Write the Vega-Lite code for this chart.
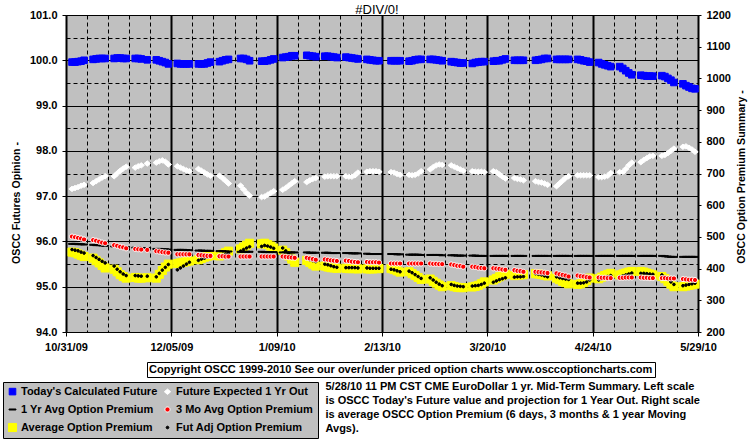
{
 "$schema": "https://vega.github.io/schema/vega-lite/v6.json",
 "width": 632, "height": 317,
 "autosize": {"type": "none"},
 "padding": {"left": 66, "top": 15, "right": 57, "bottom": 114},
 "background": "#FFFFFF",
 "title": {"text": "#DIV/0!", "frame": "group", "anchor": "middle", "dx": -5, "dy": 9, "offset": 1, "fontSize": 13, "fontWeight": "normal", "font": "Liberation Sans", "color": "#000000"},
 "data": {"values": [
{"d":"2009-11-02","tf":99.96,"fe":97.16,"y1":478,"m3":501,"avg":452,"adj":460},
{"d":"2009-11-03","tf":99.96,"fe":97.18,"y1":478,"m3":499,"avg":450,"adj":458},
{"d":"2009-11-04","tf":99.97,"fe":97.20,"y1":477,"m3":497,"avg":446,"adj":456},
{"d":"2009-11-05","tf":99.98,"fe":97.23,"y1":477,"m3":495,"avg":442,"adj":452},
{"d":"2009-11-06","tf":100.00,"fe":97.25,"y1":476,"m3":492,"avg":438,"adj":449},
{"d":"2009-11-09","tf":100.02,"fe":97.29,"y1":475,"m3":490,"avg":433,"adj":441},
{"d":"2009-11-10","tf":100.03,"fe":97.33,"y1":474,"m3":488,"avg":425,"adj":435},
{"d":"2009-11-11","tf":100.04,"fe":97.37,"y1":474,"m3":485,"avg":418,"adj":429},
{"d":"2009-11-12","tf":100.04,"fe":97.41,"y1":473,"m3":482,"avg":410,"adj":423},
{"d":"2009-11-13","tf":100.04,"fe":97.44,"y1":472,"m3":480,"avg":402,"adj":418},
{"d":"2009-11-16","tf":100.04,"fe":97.44,"y1":470,"m3":474,"avg":398,"adj":408},
{"d":"2009-11-17","tf":100.05,"fe":97.50,"y1":470,"m3":472,"avg":390,"adj":398},
{"d":"2009-11-18","tf":100.05,"fe":97.56,"y1":469,"m3":469,"avg":381,"adj":390},
{"d":"2009-11-19","tf":100.04,"fe":97.61,"y1":469,"m3":467,"avg":375,"adj":383},
{"d":"2009-11-20","tf":100.04,"fe":97.65,"y1":468,"m3":464,"avg":370,"adj":378},
{"d":"2009-11-23","tf":100.04,"fe":97.63,"y1":466,"m3":462,"avg":372,"adj":378},
{"d":"2009-11-24","tf":100.04,"fe":97.66,"y1":466,"m3":461,"avg":370,"adj":377},
{"d":"2009-11-25","tf":100.03,"fe":97.68,"y1":465,"m3":460,"avg":370,"adj":376},
{"d":"2009-11-27","tf":100.01,"fe":97.72,"y1":465,"m3":459,"avg":371,"adj":376},
{"d":"2009-11-30","tf":100.01,"fe":97.74,"y1":462,"m3":455,"avg":370,"adj":374},
{"d":"2009-12-01","tf":99.99,"fe":97.77,"y1":462,"m3":454,"avg":382,"adj":385},
{"d":"2009-12-02","tf":99.97,"fe":97.79,"y1":461,"m3":452,"avg":394,"adj":395},
{"d":"2009-12-03","tf":99.95,"fe":97.76,"y1":461,"m3":451,"avg":405,"adj":404},
{"d":"2009-12-04","tf":99.92,"fe":97.70,"y1":460,"m3":450,"avg":414,"adj":413},
{"d":"2009-12-07","tf":99.93,"fe":97.66,"y1":459,"m3":445,"avg":416,"adj":396},
{"d":"2009-12-08","tf":99.92,"fe":97.63,"y1":459,"m3":445,"avg":418,"adj":402},
{"d":"2009-12-09","tf":99.92,"fe":97.60,"y1":459,"m3":445,"avg":420,"adj":408},
{"d":"2009-12-10","tf":99.92,"fe":97.57,"y1":458,"m3":445,"avg":422,"adj":414},
{"d":"2009-12-11","tf":99.92,"fe":97.55,"y1":458,"m3":445,"avg":424,"adj":420},
{"d":"2009-12-14","tf":99.92,"fe":97.60,"y1":457,"m3":443,"avg":428,"adj":426},
{"d":"2009-12-15","tf":99.92,"fe":97.56,"y1":457,"m3":442,"avg":432,"adj":430},
{"d":"2009-12-16","tf":99.92,"fe":97.52,"y1":456,"m3":441,"avg":436,"adj":433},
{"d":"2009-12-17","tf":99.94,"fe":97.48,"y1":456,"m3":440,"avg":439,"adj":436},
{"d":"2009-12-18","tf":99.96,"fe":97.45,"y1":456,"m3":440,"avg":441,"adj":438},
{"d":"2009-12-21","tf":99.97,"fe":97.45,"y1":455,"m3":439,"avg":440,"adj":437},
{"d":"2009-12-22","tf":99.99,"fe":97.40,"y1":455,"m3":439,"avg":445,"adj":441},
{"d":"2009-12-23","tf":100.01,"fe":97.34,"y1":454,"m3":438,"avg":450,"adj":445},
{"d":"2009-12-24","tf":100.02,"fe":97.28,"y1":454,"m3":438,"avg":455,"adj":449},
{"d":"2009-12-28","tf":100.04,"fe":97.23,"y1":453,"m3":438,"avg":462,"adj":455},
{"d":"2009-12-29","tf":100.04,"fe":97.15,"y1":453,"m3":438,"avg":468,"adj":460},
{"d":"2009-12-30","tf":100.02,"fe":97.07,"y1":453,"m3":438,"avg":474,"adj":465},
{"d":"2009-12-31","tf":99.99,"fe":97.01,"y1":453,"m3":438,"avg":480,"adj":469},
{"d":"2010-01-04","tf":99.98,"fe":96.98,"y1":453,"m3":438,"avg":478,"adj":470},
{"d":"2010-01-05","tf":99.98,"fe":96.99,"y1":452,"m3":438,"avg":480,"adj":473},
{"d":"2010-01-06","tf":99.99,"fe":97.03,"y1":452,"m3":438,"avg":476,"adj":471},
{"d":"2010-01-07","tf":100.01,"fe":97.07,"y1":452,"m3":438,"avg":471,"adj":468},
{"d":"2010-01-08","tf":100.03,"fe":97.11,"y1":452,"m3":438,"avg":465,"adj":464},
{"d":"2010-01-11","tf":100.06,"fe":97.14,"y1":451,"m3":438,"avg":458,"adj":465},
{"d":"2010-01-12","tf":100.07,"fe":97.18,"y1":451,"m3":437,"avg":450,"adj":456},
{"d":"2010-01-13","tf":100.08,"fe":97.23,"y1":451,"m3":436,"avg":440,"adj":448},
{"d":"2010-01-14","tf":100.10,"fe":97.28,"y1":451,"m3":435,"avg":430,"adj":440},
{"d":"2010-01-15","tf":100.10,"fe":97.33,"y1":451,"m3":434,"avg":420,"adj":432},
{"d":"2010-01-19","tf":100.11,"fe":97.31,"y1":451,"m3":434,"avg":426,"adj":432},
{"d":"2010-01-20","tf":100.10,"fe":97.35,"y1":450,"m3":432,"avg":420,"adj":428},
{"d":"2010-01-21","tf":100.09,"fe":97.38,"y1":450,"m3":430,"avg":414,"adj":425},
{"d":"2010-01-22","tf":100.08,"fe":97.40,"y1":450,"m3":428,"avg":408,"adj":422},
{"d":"2010-01-25","tf":100.09,"fe":97.43,"y1":450,"m3":429,"avg":408,"adj":414},
{"d":"2010-01-26","tf":100.09,"fe":97.44,"y1":450,"m3":428,"avg":405,"adj":412},
{"d":"2010-01-27","tf":100.08,"fe":97.44,"y1":449,"m3":426,"avg":403,"adj":409},
{"d":"2010-01-28","tf":100.07,"fe":97.44,"y1":449,"m3":425,"avg":402,"adj":406},
{"d":"2010-01-29","tf":100.06,"fe":97.44,"y1":449,"m3":424,"avg":401,"adj":404},
{"d":"2010-02-01","tf":100.07,"fe":97.44,"y1":449,"m3":425,"avg":401,"adj":403},
{"d":"2010-02-02","tf":100.06,"fe":97.43,"y1":449,"m3":424,"avg":400,"adj":403},
{"d":"2010-02-03","tf":100.05,"fe":97.43,"y1":448,"m3":422,"avg":400,"adj":403},
{"d":"2010-02-04","tf":100.04,"fe":97.46,"y1":448,"m3":421,"avg":400,"adj":403},
{"d":"2010-02-05","tf":100.03,"fe":97.52,"y1":448,"m3":420,"avg":399,"adj":402},
{"d":"2010-02-08","tf":100.02,"fe":97.54,"y1":447,"m3":421,"avg":399,"adj":402},
{"d":"2010-02-09","tf":100.01,"fe":97.55,"y1":446,"m3":420,"avg":399,"adj":401},
{"d":"2010-02-10","tf":100.00,"fe":97.55,"y1":446,"m3":420,"avg":399,"adj":401},
{"d":"2010-02-11","tf":99.99,"fe":97.55,"y1":446,"m3":420,"avg":400,"adj":401},
{"d":"2010-02-12","tf":99.99,"fe":97.54,"y1":446,"m3":419,"avg":400,"adj":401},
{"d":"2010-02-16","tf":99.99,"fe":97.53,"y1":446,"m3":416,"avg":400,"adj":398},
{"d":"2010-02-17","tf":99.99,"fe":97.52,"y1":446,"m3":416,"avg":397,"adj":396},
{"d":"2010-02-18","tf":99.99,"fe":97.49,"y1":445,"m3":416,"avg":393,"adj":393},
{"d":"2010-02-19","tf":99.99,"fe":97.47,"y1":445,"m3":416,"avg":389,"adj":390},
{"d":"2010-02-22","tf":99.98,"fe":97.47,"y1":444,"m3":416,"avg":390,"adj":392},
{"d":"2010-02-23","tf":99.99,"fe":97.46,"y1":444,"m3":416,"avg":384,"adj":387},
{"d":"2010-02-24","tf":100.01,"fe":97.47,"y1":444,"m3":416,"avg":378,"adj":381},
{"d":"2010-02-25","tf":100.02,"fe":97.50,"y1":444,"m3":416,"avg":372,"adj":375},
{"d":"2010-02-26","tf":100.02,"fe":97.55,"y1":443,"m3":416,"avg":366,"adj":369},
{"d":"2010-03-01","tf":100.02,"fe":97.59,"y1":443,"m3":416,"avg":367,"adj":371},
{"d":"2010-03-02","tf":100.02,"fe":97.64,"y1":443,"m3":415,"avg":360,"adj":364},
{"d":"2010-03-03","tf":100.01,"fe":97.68,"y1":443,"m3":415,"avg":354,"adj":357},
{"d":"2010-03-04","tf":100.00,"fe":97.70,"y1":443,"m3":414,"avg":348,"adj":351},
{"d":"2010-03-05","tf":99.99,"fe":97.69,"y1":442,"m3":414,"avg":343,"adj":346},
{"d":"2010-03-08","tf":99.97,"fe":97.68,"y1":442,"m3":413,"avg":346,"adj":350},
{"d":"2010-03-09","tf":99.96,"fe":97.65,"y1":442,"m3":411,"avg":343,"adj":347},
{"d":"2010-03-10","tf":99.95,"fe":97.62,"y1":441,"m3":409,"avg":341,"adj":345},
{"d":"2010-03-11","tf":99.94,"fe":97.59,"y1":441,"m3":408,"avg":340,"adj":344},
{"d":"2010-03-12","tf":99.94,"fe":97.56,"y1":441,"m3":406,"avg":340,"adj":343},
{"d":"2010-03-15","tf":99.93,"fe":97.55,"y1":441,"m3":406,"avg":342,"adj":345},
{"d":"2010-03-16","tf":99.95,"fe":97.54,"y1":441,"m3":405,"avg":344,"adj":346},
{"d":"2010-03-17","tf":99.96,"fe":97.54,"y1":440,"m3":403,"avg":347,"adj":347},
{"d":"2010-03-18","tf":99.97,"fe":97.54,"y1":440,"m3":402,"avg":352,"adj":350},
{"d":"2010-03-19","tf":99.97,"fe":97.53,"y1":440,"m3":401,"avg":358,"adj":354},
{"d":"2010-03-22","tf":99.98,"fe":97.55,"y1":440,"m3":401,"avg":364,"adj":357},
{"d":"2010-03-23","tf":99.99,"fe":97.53,"y1":440,"m3":400,"avg":369,"adj":361},
{"d":"2010-03-24","tf":99.99,"fe":97.48,"y1":440,"m3":399,"avg":374,"adj":365},
{"d":"2010-03-25","tf":100.01,"fe":97.43,"y1":440,"m3":397,"avg":378,"adj":368},
{"d":"2010-03-26","tf":100.03,"fe":97.39,"y1":440,"m3":396,"avg":382,"adj":371},
{"d":"2010-03-29","tf":100.00,"fe":97.40,"y1":440,"m3":395,"avg":378,"adj":373},
{"d":"2010-03-30","tf":100.00,"fe":97.38,"y1":440,"m3":393,"avg":379,"adj":374},
{"d":"2010-03-31","tf":100.00,"fe":97.37,"y1":440,"m3":392,"avg":380,"adj":374},
{"d":"2010-04-01","tf":100.00,"fe":97.35,"y1":440,"m3":390,"avg":381,"adj":375},
{"d":"2010-04-05","tf":100.00,"fe":97.33,"y1":440,"m3":390,"avg":384,"adj":384},
{"d":"2010-04-06","tf":100.01,"fe":97.31,"y1":440,"m3":389,"avg":383,"adj":382},
{"d":"2010-04-07","tf":100.02,"fe":97.30,"y1":440,"m3":388,"avg":381,"adj":380},
{"d":"2010-04-08","tf":100.04,"fe":97.28,"y1":440,"m3":387,"avg":379,"adj":377},
{"d":"2010-04-09","tf":100.04,"fe":97.25,"y1":440,"m3":386,"avg":377,"adj":374},
{"d":"2010-04-12","tf":100.02,"fe":97.22,"y1":440,"m3":385,"avg":370,"adj":374},
{"d":"2010-04-13","tf":100.02,"fe":97.28,"y1":440,"m3":382,"avg":365,"adj":371},
{"d":"2010-04-14","tf":100.02,"fe":97.34,"y1":440,"m3":380,"avg":360,"adj":369},
{"d":"2010-04-15","tf":100.02,"fe":97.40,"y1":440,"m3":378,"avg":356,"adj":367},
{"d":"2010-04-16","tf":100.02,"fe":97.44,"y1":440,"m3":375,"avg":352,"adj":366},
{"d":"2010-04-19","tf":100.02,"fe":97.46,"y1":440,"m3":378,"avg":350,"adj":354},
{"d":"2010-04-20","tf":100.01,"fe":97.46,"y1":440,"m3":376,"avg":352,"adj":354},
{"d":"2010-04-21","tf":99.99,"fe":97.46,"y1":440,"m3":375,"avg":356,"adj":355},
{"d":"2010-04-22","tf":99.98,"fe":97.46,"y1":440,"m3":373,"avg":362,"adj":358},
{"d":"2010-04-23","tf":99.96,"fe":97.46,"y1":440,"m3":372,"avg":370,"adj":364},
{"d":"2010-04-26","tf":99.95,"fe":97.42,"y1":440,"m3":372,"avg":368,"adj":364},
{"d":"2010-04-27","tf":99.92,"fe":97.42,"y1":440,"m3":371,"avg":373,"adj":368},
{"d":"2010-04-28","tf":99.90,"fe":97.43,"y1":440,"m3":371,"avg":378,"adj":372},
{"d":"2010-04-29","tf":99.88,"fe":97.45,"y1":440,"m3":370,"avg":382,"adj":375},
{"d":"2010-04-30","tf":99.86,"fe":97.51,"y1":440,"m3":370,"avg":385,"adj":378},
{"d":"2010-05-03","tf":99.86,"fe":97.53,"y1":440,"m3":371,"avg":380,"adj":374},
{"d":"2010-05-04","tf":99.82,"fe":97.53,"y1":440,"m3":371,"avg":383,"adj":377},
{"d":"2010-05-05","tf":99.77,"fe":97.60,"y1":440,"m3":372,"avg":386,"adj":380},
{"d":"2010-05-06","tf":99.72,"fe":97.68,"y1":440,"m3":372,"avg":389,"adj":383},
{"d":"2010-05-07","tf":99.68,"fe":97.74,"y1":440,"m3":372,"avg":391,"adj":386},
{"d":"2010-05-10","tf":99.67,"fe":97.75,"y1":440,"m3":372,"avg":391,"adj":385},
{"d":"2010-05-11","tf":99.66,"fe":97.80,"y1":440,"m3":371,"avg":389,"adj":385},
{"d":"2010-05-12","tf":99.65,"fe":97.84,"y1":440,"m3":371,"avg":386,"adj":384},
{"d":"2010-05-13","tf":99.65,"fe":97.88,"y1":440,"m3":370,"avg":383,"adj":383},
{"d":"2010-05-14","tf":99.65,"fe":97.89,"y1":440,"m3":370,"avg":380,"adj":382},
{"d":"2010-05-17","tf":99.66,"fe":97.89,"y1":440,"m3":370,"avg":375,"adj":380},
{"d":"2010-05-18","tf":99.64,"fe":97.91,"y1":439,"m3":370,"avg":368,"adj":374},
{"d":"2010-05-19","tf":99.60,"fe":97.95,"y1":438,"m3":369,"avg":360,"adj":366},
{"d":"2010-05-20","tf":99.56,"fe":98.00,"y1":437,"m3":369,"avg":351,"adj":358},
{"d":"2010-05-21","tf":99.51,"fe":98.05,"y1":437,"m3":369,"avg":343,"adj":350},
{"d":"2010-05-24","tf":99.48,"fe":98.09,"y1":437,"m3":367,"avg":343,"adj":346},
{"d":"2010-05-25","tf":99.44,"fe":98.10,"y1":437,"m3":366,"avg":345,"adj":348},
{"d":"2010-05-26","tf":99.41,"fe":98.07,"y1":437,"m3":365,"avg":347,"adj":350},
{"d":"2010-05-27","tf":99.38,"fe":98.03,"y1":437,"m3":365,"avg":349,"adj":352},
{"d":"2010-05-28","tf":99.37,"fe":97.98,"y1":437,"m3":364,"avg":351,"adj":354}
 ]},
 "encoding": {
  "fill": {"field": "key", "type": "nominal",
   "scale": {"domain": ["tf","y1","avg","fe","m3","adj"], "range": ["#0000FF","#000000","#FFFF00","#FFFFFF","#FF0000","#000000"]},
   "legend": {"title": null, "columns": 2, "legendX": -63, "legendY": 367, "fillColor": "#C0C0C0", "strokeColor": "#000000", "padding": 4, "rowPadding": 6, "columnPadding": 4, "labelOffset": 3, "labelLimit": 400,
    "labelExpr": "datum.label == 'tf' ? \"Today's Calculated Future\" : datum.label == 'fe' ? 'Future Expected 1 Yr Out' : datum.label == 'y1' ? '1 Yr Avg Option Premium' : datum.label == 'm3' ? '3 Mo Avg Option Premium' : datum.label == 'avg' ? 'Average Option Premium' : 'Fut Adj Option Premium'"}},
  "shape": {"field": "key", "type": "nominal",
   "scale": {"domain": ["tf","y1","avg","fe","m3","adj"], "range": [
     "M-1.1,-1.1H1.1V1.1H-1.1Z",
     "M-1.15,-0.17H1.15V0.17H-1.15Z",
     "M-1.35,-1.35H1.35V1.35H-1.35Z",
     "M0,-0.9L1.05,0L0,0.9L-1.05,0Z",
     "M-0.85,0A0.85,0.85,0,1,1,0.85,0A0.85,0.85,0,1,1,-0.85,0Z",
     "M-0.45,0A0.45,0.45,0,1,1,0.45,0A0.45,0.45,0,1,1,-0.45,0Z"]},
   "legend": {"title": null, "columns": 2, "legendX": -63, "legendY": 367, "fillColor": "#C0C0C0", "strokeColor": "#000000", "padding": 4, "rowPadding": 6, "columnPadding": 4, "labelOffset": 3, "labelLimit": 400,
    "labelExpr": "datum.label == 'tf' ? \"Today's Calculated Future\" : datum.label == 'fe' ? 'Future Expected 1 Yr Out' : datum.label == 'y1' ? '1 Yr Avg Option Premium' : datum.label == 'm3' ? '3 Mo Avg Option Premium' : datum.label == 'avg' ? 'Average Option Premium' : 'Fut Adj Option Premium'"}},
  "stroke": {"field": "key", "type": "nominal",
   "scale": {"domain": ["tf","y1","avg","fe","m3","adj"], "range": ["#0000FF","#000000","#FFFF00","#FFFFFF","#FFFFFF","#000000"]},
   "legend": {"title": null, "columns": 2, "legendX": -63, "legendY": 367, "fillColor": "#C0C0C0", "strokeColor": "#000000", "padding": 4, "rowPadding": 6, "columnPadding": 4, "labelOffset": 3, "labelLimit": 400,
    "labelExpr": "datum.label == 'tf' ? \"Today's Calculated Future\" : datum.label == 'fe' ? 'Future Expected 1 Yr Out' : datum.label == 'y1' ? '1 Yr Avg Option Premium' : datum.label == 'm3' ? '3 Mo Avg Option Premium' : datum.label == 'avg' ? 'Average Option Premium' : 'Fut Adj Option Premium'"}}
 },
 "layer": [
  {
   "encoding": {
    "x": {"field": "d", "type": "temporal",
     "scale": {"type": "utc", "domain": [1256947200000, 1275091200000]},
     "axis": {"orient": "bottom", "title": null, "grid": true,
      "values": [1256947200000,1257552000000,1258156800000,1258761600000,1259366400000,1259971200000,1260576000000,1261180800000,1261785600000,1262390400000,1262995200000,1263600000000,1264204800000,1264809600000,1265414400000,1266019200000,1266624000000,1267228800000,1267833600000,1268438400000,1269043200000,1269648000000,1270252800000,1270857600000,1271462400000,1272067200000,1272672000000,1273276800000,1273881600000,1274486400000,1275091200000],
      "labelExpr": "round((datum.value - 1256947200000) / 86400000) % 35 === 0 ? utcFormat(datum.value, '%-m/%d/%y') : ''",
      "labelAlign": "center", "labelBaseline": "top", "tickSize": 4, "labelPadding": 5,
      "gridDash": {"condition": {"test": "round((datum.value - 1256947200000) / 86400000) % 35 === 0", "value": []}, "value": [4, 3]},
      "gridWidth": {"condition": {"test": "round((datum.value - 1256947200000) / 86400000) % 35 === 0", "value": 2}, "value": 1},
      "tickOpacity": {"condition": {"test": "round((datum.value - 1256947200000) / 86400000) % 35 === 0", "value": 1}, "value": 0}}},
    "y": {"field": "v", "type": "quantitative",
     "scale": {"domain": [94, 101], "nice": false, "zero": false},
     "axis": {"orient": "left", "grid": true,
      "values": [94, 94.5, 95, 95.5, 96, 96.5, 97, 97.5, 98, 98.5, 99, 99.5, 100, 100.5, 101],
      "labelExpr": "datum.value % 1 === 0 ? format(datum.value, '.1f') : ''",
      "gridDash": {"condition": {"test": "datum.value % 1 !== 0", "value": [4, 3]}, "value": []},
      "tickOpacity": {"condition": {"test": "datum.value % 1 !== 0", "value": 0}, "value": 1},
      "tickSize": 4, "labelPadding": 5,
      "title": "OSCC Futures Opinion -", "titleAngle": 270, "titleX": -50, "titleY": 187.5, "titleAlign": "center", "titleBaseline": "middle"}}
   },
   "layer": [
    {"transform": [{"fold": ["tf"], "as": ["key", "v"]}], "mark": {"type": "point", "filled": true, "size": 36, "strokeWidth": 1, "opacity": 1}},
    {"transform": [{"fold": ["fe"], "as": ["key", "v"]}], "mark": {"type": "point", "filled": true, "size": 36, "strokeWidth": 1, "opacity": 1}}
   ]
  },
  {
   "encoding": {
    "x": {"field": "d", "type": "temporal",
     "scale": {"type": "utc", "domain": [1256947200000, 1275091200000]},
     "axis": {"orient": "top", "grid": false, "labels": false, "ticks": false, "domain": false,
      "title": ["5/28/10 11 PM CST CME EuroDollar 1 yr. Mid-Term Summary. Left scale", "is OSCC Today's Future value and projection for 1 Year Out. Right scale", "is average OSCC Option Premium (6  days, 3 months & 1 year Moving", "Avgs)."],
      "titleX": 259, "titleY": 365, "titleAlign": "left", "titleBaseline": "top", "titleAngle": 0, "titleFontSize": 11, "titleLineHeight": 14}},
    "y": {"field": "v", "type": "quantitative",
     "scale": {"domain": [200, 1200], "nice": false, "zero": false},
     "axis": {"orient": "right", "grid": false,
      "values": [200, 300, 400, 500, 600, 700, 800, 900, 1000, 1100, 1200], "format": "d",
      "tickSize": 3, "labelPadding": 5,
      "title": "OSCC Option Premium Summary -", "titleAngle": 270, "titleX": 43, "titleY": 161.5, "titleAlign": "center", "titleBaseline": "middle"}}
   },
   "layer": [
    {"transform": [{"fold": ["avg"], "as": ["key", "v"]}], "mark": {"type": "point", "filled": true, "size": 36, "strokeWidth": 1, "opacity": 1}},
    {"transform": [{"fold": ["adj"], "as": ["key", "v"]}], "mark": {"type": "point", "filled": true, "size": 36, "strokeWidth": 1, "opacity": 1}},
    {"transform": [{"fold": ["y1"], "as": ["key", "v"]}], "mark": {"type": "point", "filled": true, "size": 36, "strokeWidth": 1, "opacity": 1}},
    {"transform": [{"fold": ["m3"], "as": ["key", "v"]}], "mark": {"type": "point", "filled": true, "size": 36, "opacity": 1},
     "encoding": {"strokeWidth": {"datum": 1, "type": "quantitative", "scale": {"domain": [0, 2], "range": [1, 1]},
      "legend": {"title": "Copyright OSCC 1999-2010 See our over/under priced option charts www.osccoptioncharts.com", "values": [], "legendX": 81, "legendY": 347, "fillColor": "#FFFFFF", "strokeColor": "#000000", "padding": 2, "titlePadding": 0, "titleLimit": 1000, "titleFontSize": 11, "titleFontWeight": "bold"}}}}
   ]
  }
 ],
 "resolve": {"scale": {"y": "independent"}, "axis": {"x": "independent", "y": "independent"}},
 "config": {
  "font": "Liberation Sans",
  "view": {"fill": "#C0C0C0", "stroke": "#000000", "strokeWidth": 1},
  "axis": {"labelFont": "Liberation Sans", "labelFontSize": 11, "labelFontWeight": "bold", "labelColor": "#000000", "titleFont": "Liberation Sans", "titleFontSize": 10.6, "titleFontWeight": "bold", "titleColor": "#000000", "domain": false, "tickColor": "#000000", "tickWidth": 1, "gridColor": "#000000", "gridOpacity": 1, "labelOverlap": false, "labelFlush": false, "labelBound": false},
  "legend": {"orient": "none", "labelFont": "Liberation Sans", "labelFontSize": 11, "labelFontWeight": "bold", "labelColor": "#000000", "titleFont": "Liberation Sans", "titleFontSize": 11, "titleFontWeight": "bold", "titleColor": "#000000", "symbolSize": 36, "symbolStrokeWidth": 1}
 }
}
